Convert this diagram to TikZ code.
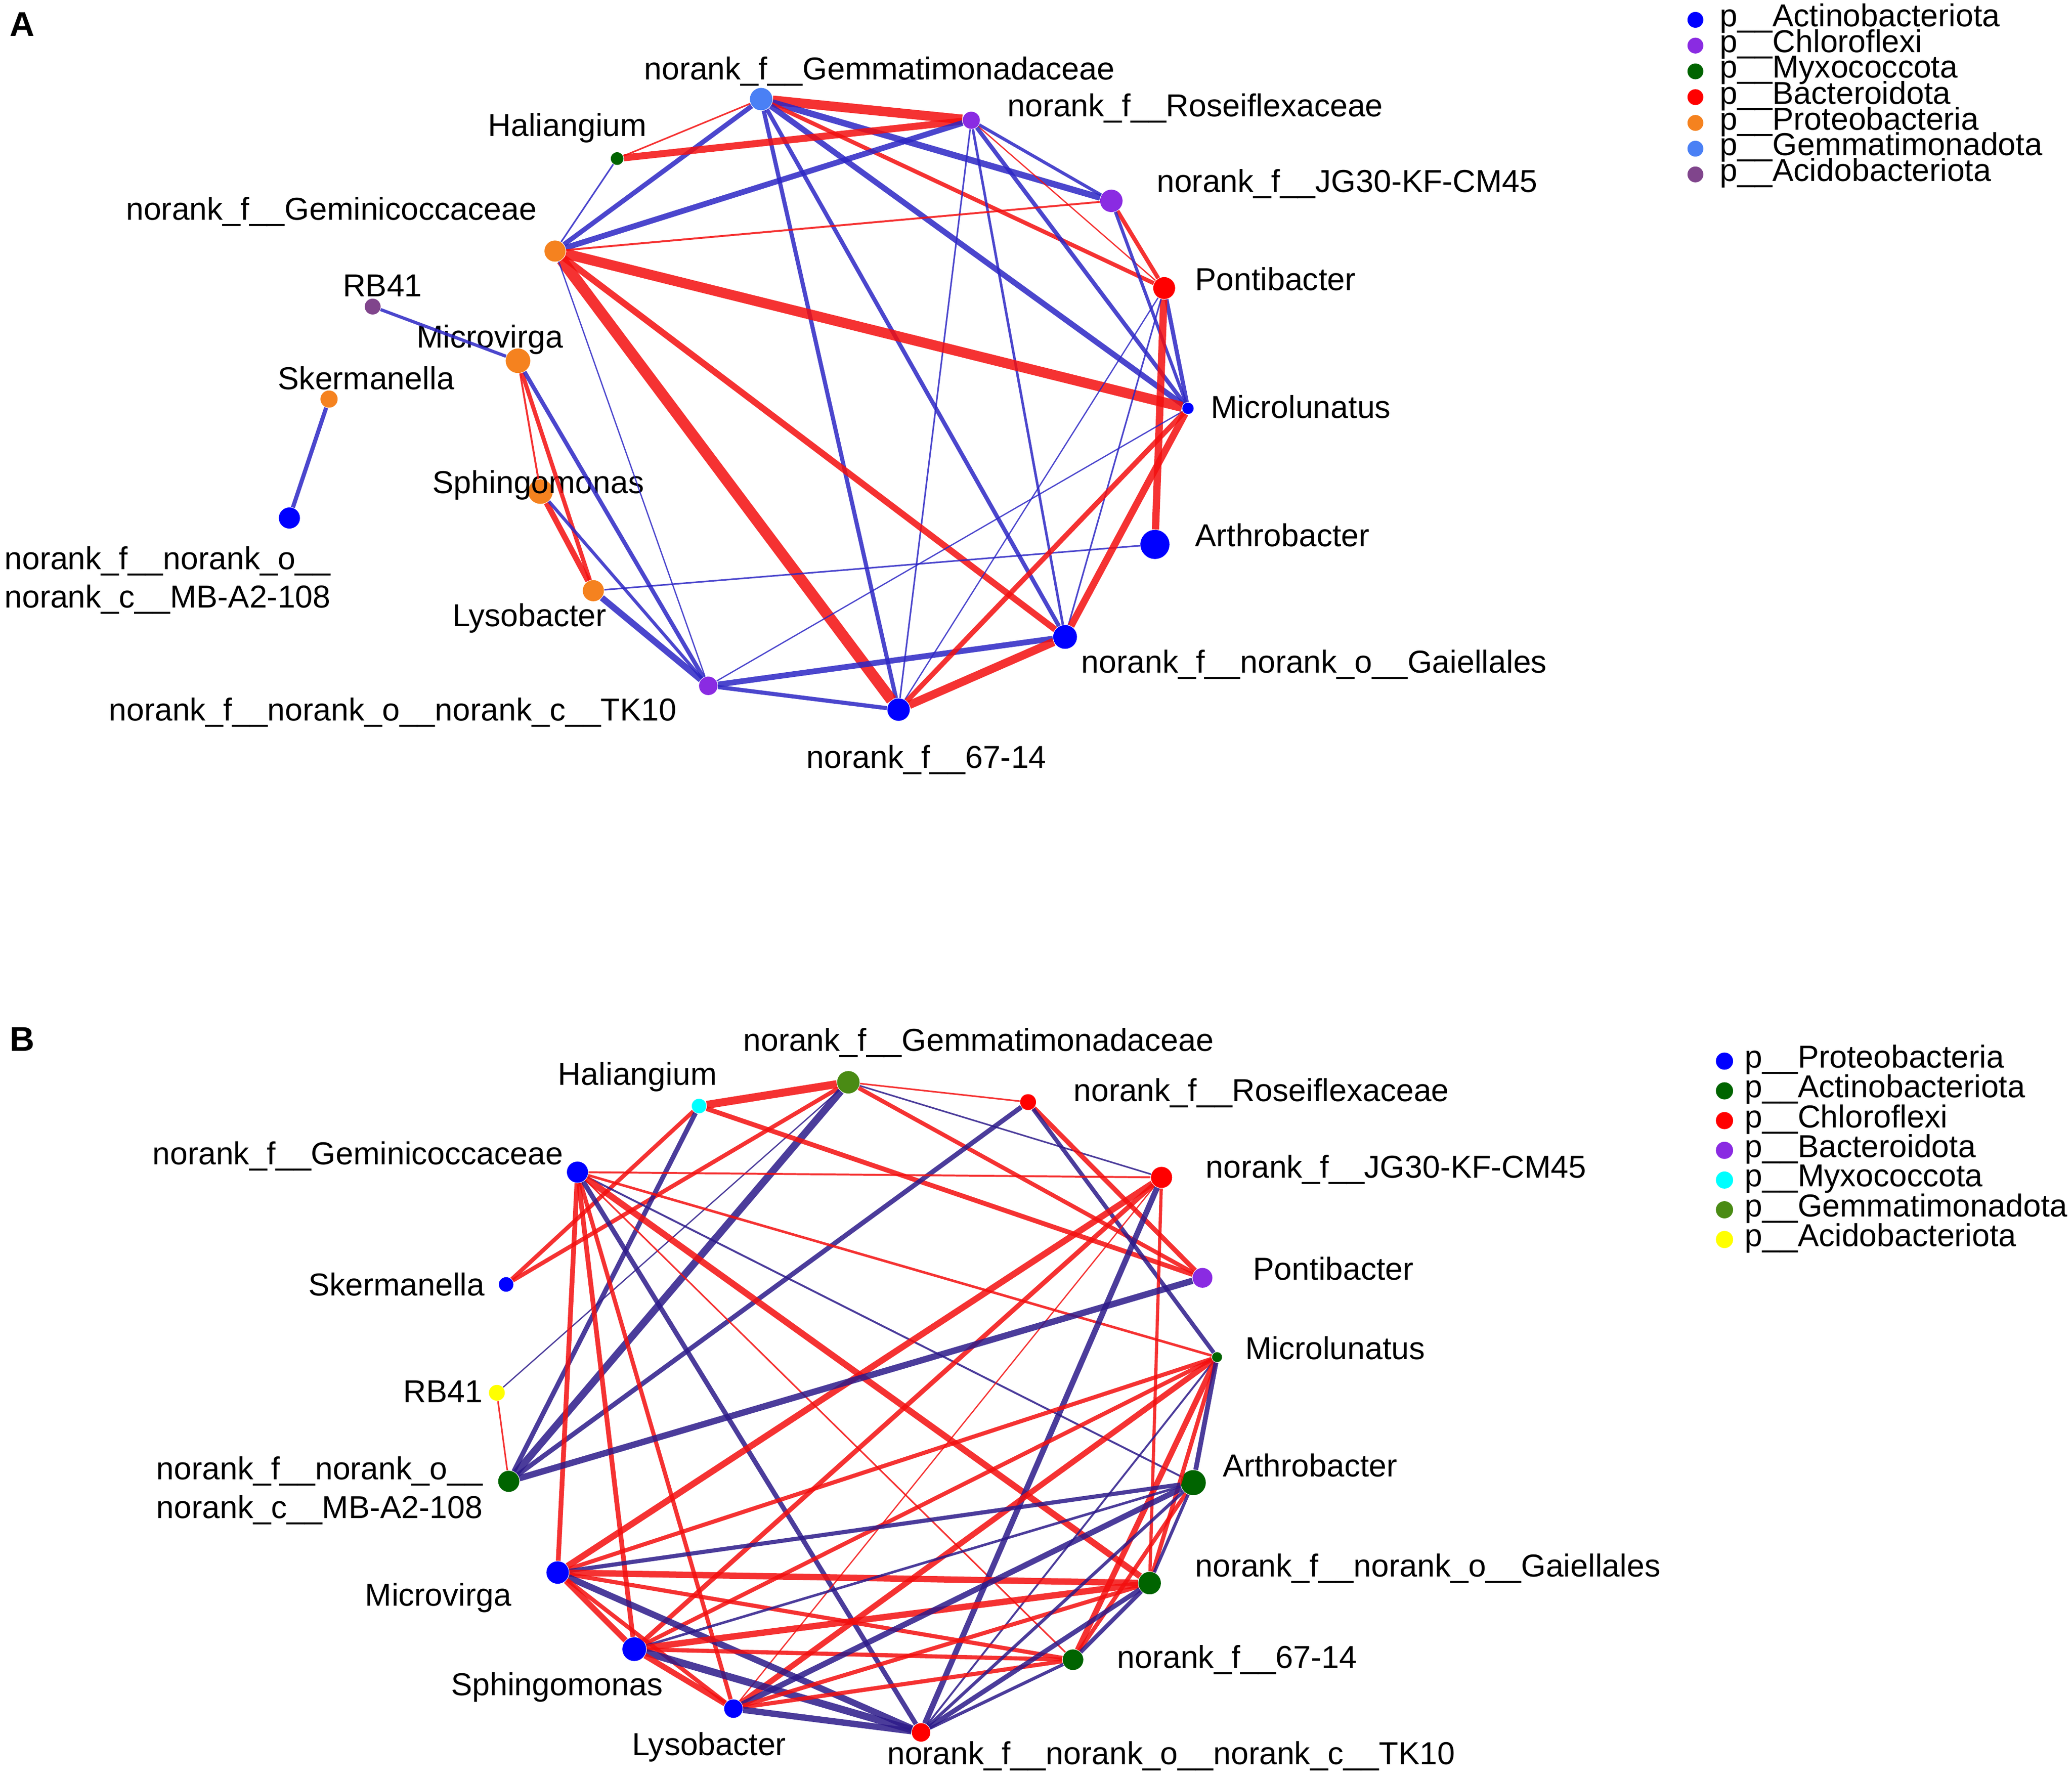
\documentclass[tikz,border=0pt]{standalone}
\usepackage{fontspec}
\setmainfont{Liberation Sans}
% phylum colours
\definecolor{actblue}{HTML}{0000FF}
\definecolor{chloro}{HTML}{8A2BE2}
\definecolor{myxogreen}{HTML}{006400}
\definecolor{bactred}{HTML}{FF0000}
\definecolor{proteo}{HTML}{F5821F}
\definecolor{gemblue}{HTML}{4A80F5}
\definecolor{acido}{HTML}{80458C}
\definecolor{myxocyan}{HTML}{00FFFF}
\definecolor{gemolive}{HTML}{4A8B14}
\definecolor{acidoyellow}{HTML}{FFFF00}
% link colours
\definecolor{edgered}{HTML}{F30E0E}
\definecolor{edgeblueA}{HTML}{2C26C4}
\definecolor{edgeblueB}{HTML}{2C1A89}
\tikzset{
  dot/.style={circle, fill=#1, inner sep=0pt},
  lbl/.style={anchor=west, inner sep=0pt, font=\fontsize{12}{14.5}\selectfont, align=left},
  poslink/.style={draw=edgered, draw opacity=0.85, line width=1.2*#1},
  neglinkA/.style={draw=edgeblueA, draw opacity=0.85, line width=1.2*#1},
  neglinkB/.style={draw=edgeblueB, draw opacity=0.85, line width=1.2*#1},
  panel/.style={anchor=north west, inner sep=0pt, font=\bfseries\fontsize{13}{13}\selectfont},
}

\begin{document}
\begin{tikzpicture}[x=0.5pt, y=-0.5pt]
	\useasboundingbox (0,0) rectangle (1568,1346);

	% panel A: genera
	\node[panel] (panelA) at (7,9) {A};
	\node[dot=gemblue, minimum size=8.5pt] (aGem) at (576,75) {};
	\node[dot=chloro, minimum size=6.5pt] (aRos) at (735,91) {};
	\node[dot=myxogreen, minimum size=4.8pt] (aHal) at (467,120) {};
	\node[dot=chloro, minimum size=8.5pt] (aJG) at (841,152) {};
	\node[dot=proteo, minimum size=8pt] (aGemc) at (420,190) {};
	\node[dot=bactred, minimum size=8.3pt] (aPon) at (881,218) {};
	\node[dot=acido, minimum size=6pt] (aRB) at (282,232) {};
	\node[dot=proteo, minimum size=9.3pt] (aMvir) at (392,273) {};
	\node[dot=proteo, minimum size=6.5pt] (aSker) at (249,302) {};
	\node[dot=actblue, minimum size=4.3pt] (aMlun) at (899,309) {};
	\node[dot=proteo, minimum size=9.3pt] (aSph) at (409,372) {};
	\node[dot=actblue, minimum size=8pt] (aMB) at (219,392) {};
	\node[dot=actblue, minimum size=11pt] (aArth) at (874,412) {};
	\node[dot=proteo, minimum size=8pt] (aLys) at (449,447) {};
	\node[dot=actblue, minimum size=9pt] (aGai) at (806,482) {};
	\node[dot=chloro, minimum size=7pt] (aTK) at (536,519) {};
	\node[dot=actblue, minimum size=8.5pt] (aF67) at (680,537) {};

	\node[lbl] (aGemL) at (487,54) {norank\_f\_\_Gemmatimonadaceae};
	\node[lbl] (aHalL) at (369,97) {Haliangium};
	\node[lbl] (aRosL) at (762,82) {norank\_f\_\_Roseiflexaceae};
	\node[lbl] (aJGL) at (875,139) {norank\_f\_\_JG30-KF-CM45};
	\node[lbl] (aGemcL) at (95,160) {norank\_f\_\_Geminicoccaceae};
	\node[lbl] (aPonL) at (904,211) {Pontibacter};
	\node[lbl] (aRBL) at (259,216) {RB41};
	\node[lbl] (aMvirL) at (315,257) {Microvirga};
	\node[lbl] (aSkerL) at (210,286) {Skermanella};
	\node[lbl] (aMlunL) at (916,308) {Microlunatus};
	\node[lbl] (aSphL) at (327,367) {Sphingomonas};
	\node[lbl] (aMBL) at (3,439) {norank\_f\_\_norank\_o\_\_\\norank\_c\_\_MB-A2-108};
	\node[lbl] (aArthL) at (904,405) {Arthrobacter};
	\node[lbl] (aLysL) at (342,468) {Lysobacter};
	\node[lbl] (aGaiL) at (818,503) {norank\_f\_\_norank\_o\_\_Gaiellales};
	\node[lbl] (aTKL) at (82,539) {norank\_f\_\_norank\_o\_\_norank\_c\_\_TK10};
	\node[lbl] (aF67L) at (610,575) {norank\_f\_\_67-14};

	% panel A: links
	\draw[poslink=3pt] (aGem) -- (aRos);
	\draw[poslink=0.5pt] (aGem) -- (aHal);
	\draw[neglinkA=1.5pt] (aGem) -- (aGemc);
	\draw[neglinkA=2pt] (aGem) -- (aJG);
	\draw[poslink=1.3pt] (aGem) -- (aPon);
	\draw[neglinkA=1.8pt] (aGem) -- (aMlun);
	\draw[neglinkA=1.3pt] (aGem) -- (aF67);
	\draw[neglinkA=1.3pt] (aGem) -- (aGai);
	\draw[poslink=2.2pt] (aRos) -- (aHal);
	\draw[neglinkA=1.8pt] (aRos) -- (aGemc);
	\draw[neglinkA=1pt] (aRos) -- (aJG);
	\draw[poslink=0.4pt] (aRos) -- (aPon);
	\draw[neglinkA=1.3pt] (aRos) -- (aMlun);
	\draw[neglinkA=0.5pt] (aRos) -- (aF67);
	\draw[neglinkA=0.8pt] (aRos) -- (aGai);
	\draw[neglinkA=0.5pt] (aHal) -- (aGemc);
	\draw[poslink=0.6pt] (aJG) -- (aGemc);
	\draw[poslink=1.3pt] (aJG) -- (aPon);
	\draw[neglinkA=1pt] (aJG) -- (aMlun);
	\draw[poslink=3.2pt] (aGemc) -- (aMlun);
	\draw[poslink=2pt] (aGemc) -- (aGai);
	\draw[poslink=3.5pt] (aGemc) -- (aF67);
	\draw[neglinkA=0.4pt] (aGemc) -- (aTK);
	\draw[neglinkA=1.3pt] (aPon) -- (aMlun);
	\draw[poslink=2.3pt] (aPon) -- (aArth);
	\draw[neglinkA=0.4pt] (aPon) -- (aF67);
	\draw[neglinkA=0.5pt] (aPon) -- (aGai);
	\draw[neglinkA=1pt] (aRB) -- (aMvir);
	\draw[neglinkA=1.3pt] (aSker) -- (aMB);
	\draw[poslink=0.6pt] (aMvir) -- (aSph);
	\draw[poslink=1.3pt] (aMvir) -- (aLys);
	\draw[neglinkA=1.3pt] (aMvir) -- (aTK);
	\draw[poslink=1.8pt] (aSph) -- (aLys);
	\draw[neglinkA=1pt] (aSph) -- (aTK);
	\draw[neglinkA=2pt] (aLys) -- (aTK);
	\draw[neglinkA=0.5pt] (aLys) -- (aArth);
	\draw[neglinkA=1.8pt] (aTK) -- (aGai);
	\draw[neglinkA=1.3pt] (aTK) -- (aF67);
	\draw[neglinkA=0.4pt] (aTK) -- (aMlun);
	\draw[poslink=2.6pt] (aF67) -- (aGai);
	\draw[poslink=1.6pt] (aF67) -- (aMlun);
	\draw[poslink=2.2pt] (aGai) -- (aMlun);

	% panel A: legend
	\node[dot=actblue, minimum size=6pt] (aKey1) at (1283,15) {};
	\node[dot=chloro, minimum size=6pt] (aKey2) at (1283,34.5) {};
	\node[dot=myxogreen, minimum size=6pt] (aKey3) at (1283,54) {};
	\node[dot=bactred, minimum size=6pt] (aKey4) at (1283,73.5) {};
	\node[dot=proteo, minimum size=6pt] (aKey5) at (1283,93) {};
	\node[dot=gemblue, minimum size=6pt] (aKey6) at (1283,112.5) {};
	\node[dot=acido, minimum size=6pt] (aKey7) at (1283,132) {};
	\node[lbl] (aKey1L) at (1301,14) {p\_\_Actinobacteriota};
	\node[lbl] (aKey2L) at (1301,33.5) {p\_\_Chloroflexi};
	\node[lbl] (aKey3L) at (1301,53) {p\_\_Myxococcota};
	\node[lbl] (aKey4L) at (1301,72.5) {p\_\_Bacteroidota};
	\node[lbl] (aKey5L) at (1301,92) {p\_\_Proteobacteria};
	\node[lbl] (aKey6L) at (1301,111.5) {p\_\_Gemmatimonadota};
	\node[lbl] (aKey7L) at (1301,131) {p\_\_Acidobacteriota};

	% panel B: genera
	\node[panel] (panelB) at (7,777) {B};
	\node[dot=gemolive, minimum size=8.5pt] (bGem) at (642,819) {};
	\node[dot=myxocyan, minimum size=5.5pt] (bHal) at (529,837) {};
	\node[dot=bactred, minimum size=6pt] (bRos) at (778,834) {};
	\node[dot=actblue, minimum size=8pt] (bGemc) at (437,887) {};
	\node[dot=bactred, minimum size=8pt] (bJG) at (879,891) {};
	\node[dot=actblue, minimum size=5.5pt] (bSker) at (383,972) {};
	\node[dot=chloro, minimum size=7.5pt] (bPon) at (910,967) {};
	\node[dot=myxogreen, minimum size=3.8pt] (bMlun) at (921,1027) {};
	\node[dot=acidoyellow, minimum size=6pt] (bRB) at (376,1054) {};
	\node[dot=myxogreen, minimum size=8pt] (bMB) at (385,1121) {};
	\node[dot=myxogreen, minimum size=9.5pt] (bArth) at (903,1122) {};
	\node[dot=actblue, minimum size=8.5pt] (bMvir) at (422,1190) {};
	\node[dot=myxogreen, minimum size=8.5pt] (bGai) at (870,1198) {};
	\node[dot=actblue, minimum size=9pt] (bSph) at (480,1248) {};
	\node[dot=myxogreen, minimum size=7.8pt] (bF67) at (812,1256) {};
	\node[dot=actblue, minimum size=7pt] (bLys) at (555,1293) {};
	\node[dot=bactred, minimum size=7pt] (bTK) at (697,1311) {};

	\node[lbl] (bGemL) at (562,789) {norank\_f\_\_Gemmatimonadaceae};
	\node[lbl] (bHalL) at (422,815) {Haliangium};
	\node[lbl] (bRosL) at (812,827) {norank\_f\_\_Roseiflexaceae};
	\node[lbl] (bGemcL) at (115,875) {norank\_f\_\_Geminicoccaceae};
	\node[lbl] (bJGL) at (912,885) {norank\_f\_\_JG30-KF-CM45};
	\node[lbl] (bSkerL) at (233,972) {Skermanella};
	\node[lbl] (bPonL) at (948,960) {Pontibacter};
	\node[lbl] (bMlunL) at (942,1020) {Microlunatus};
	\node[lbl] (bRBL) at (305,1053) {RB41};
	\node[lbl] (bMBL) at (118,1128) {norank\_f\_\_norank\_o\_\_\\norank\_c\_\_MB-A2-108};
	\node[lbl] (bArthL) at (925,1109) {Arthrobacter};
	\node[lbl] (bMvirL) at (276,1209) {Microvirga};
	\node[lbl] (bGaiL) at (904,1187) {norank\_f\_\_norank\_o\_\_Gaiellales};
	\node[lbl] (bSphL) at (341,1277) {Sphingomonas};
	\node[lbl] (bF67L) at (845,1256) {norank\_f\_\_67-14};
	\node[lbl] (bLysL) at (478,1322) {Lysobacter};
	\node[lbl] (bTKL) at (671,1329) {norank\_f\_\_norank\_o\_\_norank\_c\_\_TK10};

	% panel B: links
	\draw[poslink=2.5pt] (bGem) -- (bHal);
	\draw[poslink=1.3pt] (bGem) -- (bSker);
	\draw[neglinkB=2.3pt] (bGem) -- (bMB);
	\draw[neglinkB=0.4pt] (bGem) -- (bRB);
	\draw[poslink=0.5pt] (bGem) -- (bRos);
	\draw[neglinkB=0.5pt] (bGem) -- (bJG);
	\draw[poslink=1.3pt] (bGem) -- (bPon);
	\draw[poslink=1.3pt] (bHal) -- (bSker);
	\draw[neglinkB=1.5pt] (bHal) -- (bMB);
	\draw[poslink=1.5pt] (bHal) -- (bPon);
	\draw[poslink=1.5pt] (bRos) -- (bPon);
	\draw[neglinkB=1.3pt] (bRos) -- (bMlun);
	\draw[neglinkB=1.5pt] (bRos) -- (bMB);
	\draw[poslink=0.6pt] (bGemc) -- (bJG);
	\draw[poslink=0.8pt] (bGemc) -- (bMlun);
	\draw[neglinkB=0.6pt] (bGemc) -- (bArth);
	\draw[poslink=2pt] (bGemc) -- (bGai);
	\draw[poslink=1.5pt] (bGemc) -- (bMvir);
	\draw[poslink=1.5pt] (bGemc) -- (bSph);
	\draw[poslink=1.3pt] (bGemc) -- (bLys);
	\draw[neglinkB=1.5pt] (bGemc) -- (bTK);
	\draw[poslink=0.5pt] (bGemc) -- (bF67);
	\draw[poslink=2pt] (bJG) -- (bMvir);
	\draw[poslink=1.5pt] (bJG) -- (bSph);
	\draw[poslink=0.4pt] (bJG) -- (bLys);
	\draw[neglinkB=1.8pt] (bJG) -- (bTK);
	\draw[poslink=1pt] (bJG) -- (bGai);
	\draw[neglinkB=2pt] (bPon) -- (bMB);
	\draw[poslink=0.5pt] (bRB) -- (bMB);
	\draw[poslink=1.3pt] (bMlun) -- (bMvir);
	\draw[poslink=1.3pt] (bMlun) -- (bSph);
	\draw[poslink=1.8pt] (bMlun) -- (bLys);
	\draw[neglinkB=0.6pt] (bMlun) -- (bTK);
	\draw[poslink=1.8pt] (bMlun) -- (bF67);
	\draw[poslink=1.3pt] (bMlun) -- (bGai);
	\draw[neglinkB=1.5pt] (bMlun) -- (bArth);
	\draw[neglinkB=1.3pt] (bMvir) -- (bArth);
	\draw[poslink=2pt] (bMvir) -- (bGai);
	\draw[poslink=1.3pt] (bMvir) -- (bF67);
	\draw[neglinkB=2pt] (bMvir) -- (bTK);
	\draw[poslink=1.8pt] (bMvir) -- (bSph);
	\draw[poslink=1.3pt] (bMvir) -- (bLys);
	\draw[neglinkB=0.8pt] (bSph) -- (bArth);
	\draw[poslink=2pt] (bSph) -- (bGai);
	\draw[poslink=1.3pt] (bSph) -- (bF67);
	\draw[neglinkB=2.3pt] (bSph) -- (bTK);
	\draw[poslink=1.8pt] (bSph) -- (bLys);
	\draw[neglinkB=1.8pt] (bLys) -- (bArth);
	\draw[poslink=1.3pt] (bLys) -- (bGai);
	\draw[poslink=1.3pt] (bLys) -- (bF67);
	\draw[neglinkB=2pt] (bLys) -- (bTK);
	\draw[poslink=1.3pt] (bArth) -- (bF67);
	\draw[neglinkB=1pt] (bArth) -- (bGai);
	\draw[neglinkB=1pt] (bArth) -- (bTK);
	\draw[neglinkB=1.3pt] (bGai) -- (bF67);
	\draw[neglinkB=1.5pt] (bGai) -- (bTK);
	\draw[neglinkB=1pt] (bF67) -- (bTK);

	% panel B: legend
	\node[dot=actblue, minimum size=6.5pt] (bKey1) at (1305,803) {};
	\node[dot=myxogreen, minimum size=6.5pt] (bKey2) at (1305,825.5) {};
	\node[dot=bactred, minimum size=6.5pt] (bKey3) at (1305,848) {};
	\node[dot=chloro, minimum size=6.5pt] (bKey4) at (1305,870.5) {};
	\node[dot=myxocyan, minimum size=6.5pt] (bKey5) at (1305,893) {};
	\node[dot=gemolive, minimum size=6.5pt] (bKey6) at (1305,915.5) {};
	\node[dot=acidoyellow, minimum size=6.5pt] (bKey7) at (1305,938) {};
	\node[lbl] (bKey1L) at (1320,802) {p\_\_Proteobacteria};
	\node[lbl] (bKey2L) at (1320,824.5) {p\_\_Actinobacteriota};
	\node[lbl] (bKey3L) at (1320,847) {p\_\_Chloroflexi};
	\node[lbl] (bKey4L) at (1320,869.5) {p\_\_Bacteroidota};
	\node[lbl] (bKey5L) at (1320,892) {p\_\_Myxococcota};
	\node[lbl] (bKey6L) at (1320,914.5) {p\_\_Gemmatimonadota};
	\node[lbl] (bKey7L) at (1320,937) {p\_\_Acidobacteriota};
\end{tikzpicture}
\end{document}
